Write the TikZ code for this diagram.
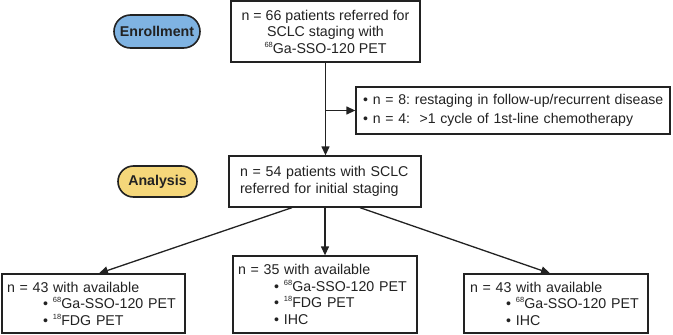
\documentclass[tikz,border=0pt]{standalone}
\usepackage{fontspec}
\setmainfont{Liberation Sans}
\usepackage{tikz}
\usetikzlibrary{
    arrows.meta,
    calc,
    positioning,
    shapes.misc
}
\definecolor{flowline}{HTML}{222222}
\definecolor{enrollblue}{HTML}{7FB3E2}
\definecolor{analysisyellow}{HTML}{F5D77A}
\tikzstyle{arrow}=[line width=1.3pt,-{Triangle[length=9pt,width=8pt]},draw=flowline]
\newcommand{\iso}[1]{\raisebox{0.8ex}{\fontsize{7.5}{7.5}\selectfont #1}}
\newcommand{\bul}{\textbullet\hspace{5pt}}
\newcommand{\indbul}{\hspace*{36pt}\bul}

\begin{document}
\begin{tikzpicture}[
    x=1pt,y=1pt,
    box/.style={
        rectangle,
        draw=flowline,
        line width=1.3pt,
        fill=white,
        text=flowline,
        inner sep=0pt,
        font=\fontsize{14.2}{16.5}\selectfont\frenchspacing
    },
    phase/.style={
        rounded rectangle,
        draw=flowline,
        line width=1.6pt,
        text=flowline,
        inner sep=0pt,
        font=\fontsize{14.2}{16.5}\selectfont\bfseries
    }
]
\useasboundingbox (0,0) rectangle (673,-335);

\node[phase,fill=enrollblue,minimum width=86pt,minimum height=33pt] (enroll) at (157,-31.5) {Enrollment};
\node[phase,fill=analysisyellow,minimum width=79pt,minimum height=31pt] (analysis) at (157.5,-181.5) {Analysis};

\node[box,minimum width=189pt,minimum height=61pt,align=center] (referral) at (325.5,-31.5)
{n = 66 patients referred for\\SCLC staging with\\\iso{68}Ga-SSO-120 PET};
\node[box,minimum width=314pt,minimum height=47pt,text width=300pt,align=left,
    font=\fontsize{14.1}{19}\selectfont\frenchspacing] (excluded) at (513,-110.5)
{\mbox{\bul n = 8: restaging in follow-up/recurrent disease}\\
\mbox{\bul n = 4:\ \ >1 cycle of 1st-line chemotherapy}};
\node[box,minimum width=192pt,minimum height=51pt,text width=170pt,align=left] (cohort) at (325,-181.5)
{n = 54 patients with SCLC\\referred for initial staging};

\node[box,minimum width=183pt,minimum height=59pt,text width=173pt,align=left] (petboth) at (93.5,-303.5)
{n = 43 with available\\\indbul\iso{68}Ga-SSO-120 PET\\\indbul\iso{18}FDG PET};
\node[box,minimum width=184pt,minimum height=77pt,text width=174pt,align=left] (petall) at (325,-294.5)
{n = 35 with available\\\indbul\iso{68}Ga-SSO-120 PET\\\indbul\iso{18}FDG PET\\\indbul IHC};
\node[box,minimum width=184pt,minimum height=59pt,text width=172pt,align=left] (petihc) at (556,-303.5)
{n = 43 with available\\\indbul\iso{68}Ga-SSO-120 PET\\\indbul IHC};

\coordinate (split) at (referral.south |- excluded.west);
\draw[arrow] (referral.south) -- (referral.south |- cohort.north);
\draw[arrow] (split) -- (excluded.west);
\draw[arrow] ($(cohort.south)+(-33pt,0)$) -- ($(petboth.north)+(5.5pt,0)$);
\draw[arrow] (cohort.south) -- (cohort.south |- petall.north);
\draw[arrow] ($(cohort.south)+(35pt,0)$) -- ($(petihc.north)+(-6pt,0)$);
\end{tikzpicture}
\end{document}
